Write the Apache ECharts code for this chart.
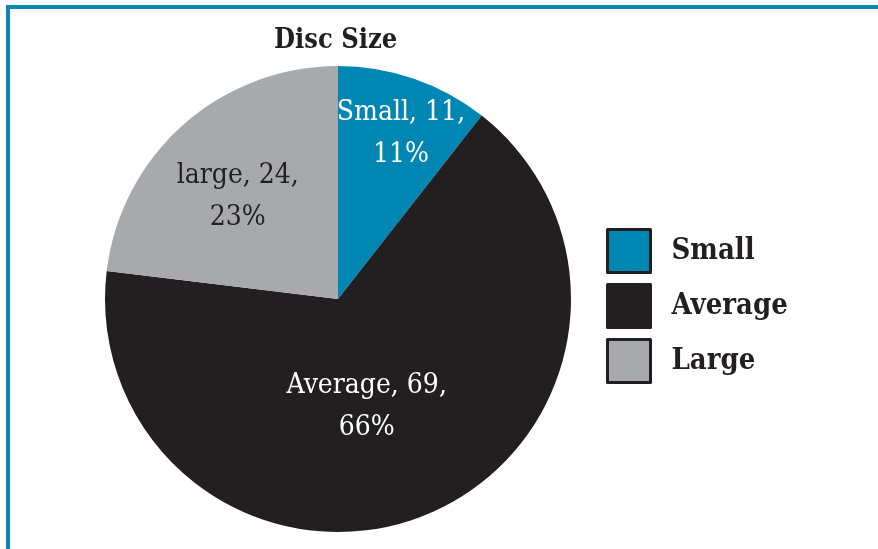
<!DOCTYPE html>
<html>
<head>
<meta charset="utf-8">
<script src="https://cdn.jsdelivr.net/npm/echarts@6/dist/echarts.min.js"></script>
<style>
  html, body { margin: 0; padding: 0; background: #fff; }
  #chart { width: 878px; height: 549px; }
</style>
</head>
<body>
<div id="chart"></div>
<script>
// 数据
var categories = ['Small', 'Average', 'Large'];
var labelNames = ['Small', 'Average', 'large'];
var counts = [11, 69, 24];
var colors = ['#0086b3', '#231f20', '#a7a9ac'];
var labelColors = ['#ffffff', '#ffffff', '#231f20'];
// label shift from the default inside spot, per slice
var labelShift = [[24, -52], [-17, -3], [-21, -13]];

var serif = '"DejaVu Serif Condensed", "DejaVu Serif", serif';

var total = counts.reduce(function (a, b) { return a + b; }, 0);

var chart = echarts.init(document.getElementById('chart'));

var option = {
    animation: false,
    graphic: [
        { type: 'rect', shape: { x: 6, y: 5, width: 872, height: 4 }, style: { fill: '#0a87b5' } },
        { type: 'rect', shape: { x: 6, y: 5, width: 4, height: 544 }, style: { fill: '#0a87b5' } }
    ],
    title: {
        text: 'Disc Size',
        left: 269,
        top: 22,
        textStyle: { fontFamily: serif, fontWeight: 'bold', fontSize: 27, color: '#231f20' }
    },
    legend: {
        orient: 'vertical',
        left: 601,
        top: 223,
        icon: 'rect',
        itemWidth: 43,
        itemHeight: 43,
        itemGap: 9,
        itemStyle: { borderColor: '#231f20', borderWidth: 3 },
        textStyle: {
            fontFamily: serif, fontWeight: 'bold', fontSize: 29, color: '#231f20',
            padding: [0, 0, 0, 16]
        },
        data: categories
    },
    series: [{
        type: 'pie',
        center: [338, 299],
        radius: 233,
        startAngle: 90,
        clockwise: true,
        itemStyle: { borderWidth: 0 },
        emphasis: { disabled: true },
        label: {
            show: true,
            position: 'inside',
            fontFamily: serif,
            fontSize: 28,
            lineHeight: 42,
            formatter: function (p) {
                var pct = Math.round(counts[p.dataIndex] / total * 100);
                return labelNames[p.dataIndex] + ', ' + counts[p.dataIndex] + ',\n' + pct + '%';
            }
        },
        labelLayout: function (p) {
            var s = labelShift[p.dataIndex];
            return { dx: s[0], dy: s[1] };
        },
        data: categories.map(function (c, i) {
            return {
                name: c,
                value: counts[i],
                itemStyle: { color: colors[i] },
                label: { color: labelColors[i] }
            };
        })
    }]
};

chart.setOption(option);
</script>
</body>
</html>
